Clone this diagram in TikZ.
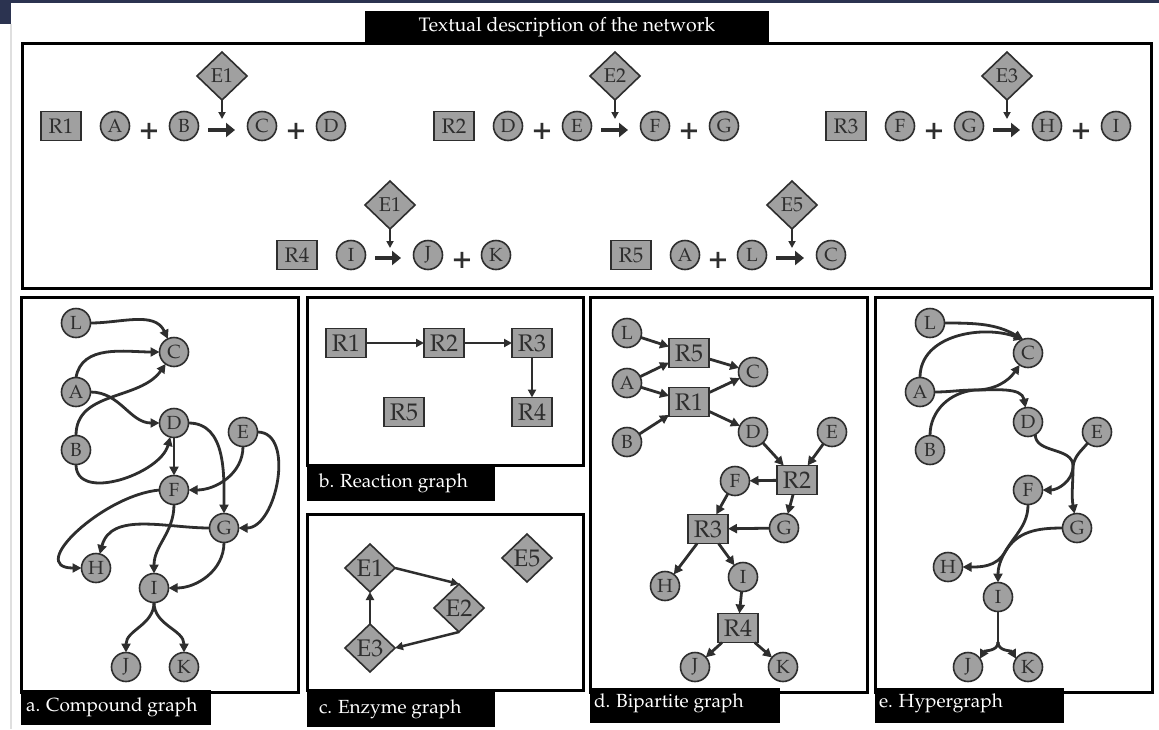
\documentclass[tikz,border=0pt]{standalone}
\usepackage[T1]{fontenc}
\usepackage{mathpazo}
\usetikzlibrary{arrows.meta}
\usetikzlibrary{shapes.geometric}

\definecolor{nodefill}{HTML}{A0A0A0}
\definecolor{ink}{HTML}{2E2E2E}
\definecolor{chrome}{HTML}{2B3350}

\begin{document}
\begin{tikzpicture}[x=1pt,y=1pt,inner sep=0pt,outer sep=0pt,
species/.style={draw=ink,fill=nodefill,circle,line width=1.6pt,minimum size=29pt,text=ink,font=\fontsize{19}{19}\selectfont},
reaction/.style={draw=ink,fill=nodefill,rectangle,line width=1.6pt,minimum width=40pt,minimum height=29pt,text=ink,font=\fontsize{21}{21}\selectfont},
enzyme/.style={draw=ink,fill=nodefill,diamond,aspect=1,line width=1.6pt,minimum width=50pt,minimum height=48pt,text=ink,font=\fontsize{20}{20}\selectfont},
bigtext/.style={font=\fontsize{24}{24}\selectfont},
plussign/.style={text=ink,font=\fontsize{32}{32}\bfseries},
panel/.style={draw=black,line width=3pt},
paneltitle/.style={text=white,anchor=west,font=\fontsize{19}{19}\selectfont},
flow/.style={draw=ink,line width=2.8pt,-{Triangle[length=9pt,width=9pt]}},
hedge/.style={draw=ink,line width=2.8pt},
rxnlink/.style={draw=ink,line width=2pt,-{Triangle[length=8pt,width=8pt]}},
rxn/.style={draw=ink,line width=4.5pt,-{Triangle[length=9pt,width=14pt]}},
catalysis/.style={draw=ink,line width=2pt,-{Triangle[length=7pt,width=7pt]}}]

\useasboundingbox (0,0) rectangle (1159,-729);
\fill[white] (0,0) rectangle (1159,-729);
\fill[chrome] (0,0) rectangle (1159,-3);
\fill[chrome] (0,0) rectangle (11,-24);
\draw[gray!25,line width=2pt] (11,-24) -- (11,-729);

% textual description
\draw[panel] (22,-43) rectangle (1151,-288);
\fill[black] (365,-11) rectangle (769,-43);
\draw (567,-27) node[paneltitle,anchor=center,font=\fontsize{19.5}{19.5}\selectfont] (title) {Textual description of the network};

\draw (61,-126) node[reaction] (r1) {R1};
\draw (115,-126) node[species] (r1a) {A};
\draw (149,-131) node[plussign] (r1p) {+};
\draw (184,-126) node[species] (r1b) {B};
\draw (262,-126) node[species] (r1c) {C};
\draw (296,-131) node[plussign] (r1q) {+};
\draw (331,-126) node[species] (r1d) {D};
\draw (222,-76) node[enzyme] (r1e) {E1};
\draw[rxn] ([shift={(9.5,-4)}]r1b.east) -- ([shift={(-12.5,-4)}]r1c.west);
\draw[catalysis] (r1e.south) -- ++(0,-19);

\draw (454,-126) node[reaction] (r2) {R2};
\draw (508,-126) node[species] (r2a) {D};
\draw (542,-131) node[plussign] (r2p) {+};
\draw (577,-126) node[species] (r2b) {E};
\draw (655,-126) node[species] (r2c) {F};
\draw (689,-131) node[plussign] (r2q) {+};
\draw (724,-126) node[species] (r2d) {G};
\draw (615,-76) node[enzyme] (r2e) {E2};
\draw[rxn] ([shift={(9.5,-4)}]r2b.east) -- ([shift={(-12.5,-4)}]r2c.west);
\draw[catalysis] (r2e.south) -- ++(0,-19);

\draw (846,-126) node[reaction] (r3) {R3};
\draw (900,-126) node[species] (r3a) {F};
\draw (934,-131) node[plussign] (r3p) {+};
\draw (969,-126) node[species] (r3b) {G};
\draw (1047,-126) node[species] (r3c) {H};
\draw (1081,-131) node[plussign] (r3q) {+};
\draw (1116,-126) node[species] (r3d) {I};
\draw (1007,-76) node[enzyme] (r3e) {E3};
\draw[rxn] ([shift={(9.5,-4)}]r3b.east) -- ([shift={(-12.5,-4)}]r3c.west);
\draw[catalysis] (r3e.south) -- ++(0,-19);

\draw (297,-255) node[reaction] (r4) {R4};
\draw (351,-255) node[species] (r4a) {I};
\draw (428,-255) node[species] (r4b) {J};
\draw (462,-260) node[plussign] (r4p) {+};
\draw (496,-255) node[species] (r4c) {K};
\draw (390,-205) node[enzyme] (r4e) {E1};
\draw[rxn] ([shift={(9.5,-3)}]r4a.east) -- ([shift={(-12.5,-3)}]r4b.west);
\draw[catalysis] (r4e.south) -- ++(0,-19);

\draw (631,-255) node[reaction] (r5) {R5};
\draw (685,-255) node[species] (r5a) {A};
\draw (718,-260) node[plussign] (r5p) {+};
\draw (752,-255) node[species] (r5b) {L};
\draw (831,-255) node[species] (r5c) {C};
\draw (792,-205) node[enzyme] (r5e) {E5};
\draw[rxn] ([shift={(9.5,-3)}]r5b.east) -- ([shift={(-12.5,-3)}]r5c.west);
\draw[catalysis] (r5e.south) -- ++(0,-19);

% a. compound graph
\draw[panel] (21,-297) rectangle (298,-692);
\fill[black] (21,-690) rectangle (211,-725);
\draw (26,-707) node[paneltitle] (capa) {a. Compound graph};
\draw (76,-323) node[species] (aL) {L};
\draw (174,-352) node[species] (aC) {C};
\draw (76,-392) node[species] (aA) {A};
\draw (174,-423) node[species] (aD) {D};
\draw (243,-432) node[species] (aE) {E};
\draw (76,-450) node[species] (aB) {B};
\draw (174,-490) node[species] (aF) {F};
\draw (224,-528) node[species] (aG) {G};
\draw (96,-568) node[species] (aH) {H};
\draw (154,-588) node[species] (aI) {I};
\draw (126,-667) node[species] (aJ) {J};
\draw (184,-667) node[species] (aK) {K};

\draw[flow] (aL.east) to[out=0,in=115] (aC.115);
\draw[flow] (aA.north) to[out=80,in=180] (aC.west);
\draw[flow] (aB.north) to[out=90,in=235] (aC.235);
\draw[flow] (aA.east) to[out=0,in=180] (aD.west);
\draw[flow] (aB.south) to[out=-90,in=255] (aD.255);
\draw[flow] (aD) -- (aF);
\draw[flow] (aD.east) to[out=0,in=90] (aG.north);
\draw[flow] (aE.south) to[out=-90,in=0] (aF.east);
\draw[flow] (aE.east) to[out=0,in=0] (aG.east);
\draw[flow] (aF.west) to[out=185,in=180,looseness=1.3] (aH.west);
\draw[flow] (aF.south) to[out=-90,in=90] (aI.north);
\draw[flow] (aG.west) to[out=180,in=75] (aH.75);
\draw[flow] (aG.south) to[out=-90,in=0] (aI.east);
\draw[flow] (aI.south) to[out=-90,in=90] (aJ.north);
\draw[flow] (aI.south) to[out=-90,in=90] (aK.north);

% b. reaction graph
\draw[panel] (307,-297) rectangle (583,-465);
\fill[black] (307,-465) rectangle (495,-501);
\draw (319,-483) node[paneltitle] (capb) {b. Reaction graph};
\draw (346,-343) node[reaction,bigtext] (bR1) {R1};
\draw (444,-343) node[reaction,bigtext] (bR2) {R2};
\draw (532,-343) node[reaction,bigtext] (bR3) {R3};
\draw (404,-412) node[reaction,bigtext] (bR5) {R5};
\draw (532,-412) node[reaction,bigtext] (bR4) {R4};
\draw[rxnlink] (bR1) -- (bR2);
\draw[rxnlink] (bR2) -- (bR3);
\draw[rxnlink] (bR3) -- (bR4);

% c. enzyme graph
\draw[panel] (307,-514) rectangle (583,-690);
\fill[black] (307,-690) rectangle (495,-727);
\draw (319,-709) node[paneltitle] (capc) {c. Enzyme graph};
\draw (370,-568) node[enzyme,bigtext] (cE1) {E1};
\draw (459,-608) node[enzyme,bigtext] (cE2) {E2};
\draw (370,-648) node[enzyme,bigtext] (cE3) {E3};
\draw (527,-558) node[enzyme,bigtext] (cE5) {E5};
\draw[rxnlink,line width=2.5pt] (cE1.east) -- (cE2.north);
\draw[rxnlink,line width=2.5pt] (cE2.south) -- (cE3.east);
\draw[rxnlink,line width=2.5pt] (cE3.north) -- (cE1.south);

% d. bipartite graph
\draw[panel] (590,-297) rectangle (867,-692);
\fill[black] (590,-688) rectangle (780,-723);
\draw (594,-703) node[paneltitle] (capd) {d. Bipartite graph};
\draw (627,-333) node[species] (dL) {L};
\draw (627,-383) node[species] (dA) {A};
\draw (627,-442) node[species] (dB) {B};
\draw (689,-353) node[reaction,bigtext] (dR5) {R5};
\draw (689,-402) node[reaction,bigtext] (dR1) {R1};
\draw (753,-372) node[species] (dC) {C};
\draw (753,-432) node[species] (dD) {D};
\draw (832,-432) node[species] (dE) {E};
\draw (797,-480) node[reaction,bigtext] (dR2) {R2};
\draw (735,-481) node[species] (dF) {F};
\draw (784,-528) node[species] (dG) {G};
\draw (708,-529) node[reaction,bigtext] (dR3) {R3};
\draw (665,-586) node[species] (dH) {H};
\draw (743,-577) node[species] (dI) {I};
\draw (738,-628) node[reaction,bigtext] (dR4) {R4};
\draw (695,-667) node[species] (dJ) {J};
\draw (783,-667) node[species] (dK) {K};

\draw[flow] (dL) -- (dR5);
\draw[flow] (dA) -- (dR5);
\draw[flow] (dA) -- (dR1);
\draw[flow] (dB) -- (dR1);
\draw[flow] (dR5) -- (dC);
\draw[flow] (dR1) -- (dC);
\draw[flow] (dR1) -- (dD);
\draw[flow] (dD) -- (dR2);
\draw[flow] (dE) -- (dR2);
\draw[flow] (dR2) -- (dF);
\draw[flow] (dR2) -- (dG);
\draw[flow] (dF) -- (dR3);
\draw[flow] (dG) -- (dR3);
\draw[flow] (dR3) -- (dH);
\draw[flow] (dR3) -- (dI);
\draw[flow] (dI) -- (dR4);
\draw[flow] (dR4) -- (dJ);
\draw[flow] (dR4) -- (dK);

% e. hypergraph
\draw[panel] (875,-297) rectangle (1152,-692);
\fill[black] (875,-688) rectangle (1064,-723);
\draw (879,-703) node[paneltitle] (cape) {e. Hypergraph};
\draw (930,-323) node[species] (eL) {L};
\draw (1028,-353) node[species] (eC) {C};
\draw (920,-392) node[species] (eA) {A};
\draw (1028,-422) node[species] (eD) {D};
\draw (1097,-432) node[species] (eE) {E};
\draw (930,-450) node[species] (eB) {B};
\draw (1028,-490) node[species] (eF) {F};
\draw (1077,-528) node[species] (eG) {G};
\draw (948,-567) node[species] (eH) {H};
\draw (998,-597) node[species] (eI) {I};
\draw (968,-667) node[species] (eJ) {J};
\draw (1028,-667) node[species] (eK) {K};

\coordinate (eh1) at (975,-390);
\coordinate (eh2) at (1073,-466);
\coordinate (eh3) at (1005,-552);
\coordinate (eh4) at (998,-642);

\draw[flow] (eL.east) to[out=0,in=150] (eC.110);
\draw[flow] (eA.north) to[out=90,in=160] (eC.110);

\draw[hedge] (eA.east) to[out=0,in=180] (eh1);
\draw[hedge] (eB.north) to[out=90,in=185] (eh1);
\draw[flow] (eh1) to[out=0,in=235] (eC.235);
\draw[flow] (eh1) to[out=0,in=100] (eD.100);

\draw[hedge] (eD.-60) to[out=-90,in=90] (eh2);
\draw[hedge] (eE.230) to[out=230,in=80] (eh2);
\draw[flow] (eh2) to[out=-90,in=0] (eF.east);
\draw[flow] (eh2) to[out=-90,in=100] (eG.100);

\draw[hedge] (eF.south) to[out=-90,in=60] (eh3);
\draw[hedge] (eG.west) to[out=180,in=60] (eh3);
\draw[flow] (eh3) to[out=240,in=0] (eH.east);
\draw[flow] (eh3) to[out=240,in=90] (eI.north);

\draw[hedge] (eI.south) -- (eh4);
\draw[flow] (eh4) to[out=-90,in=60] (eJ.35);
\draw[flow] (eh4) to[out=-90,in=120] (eK.145);

\end{tikzpicture}
\end{document}
